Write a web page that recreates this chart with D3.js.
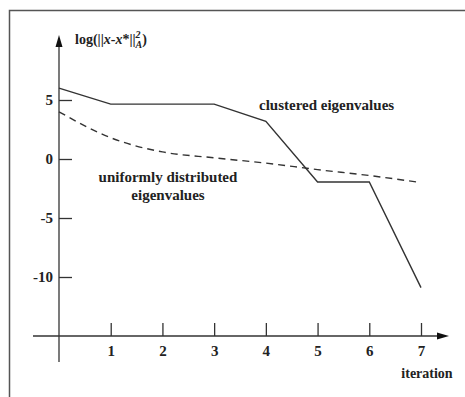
<!DOCTYPE html>
<html>
<head>
<meta charset="utf-8">
<script src="https://cdn.jsdelivr.net/npm/d3@7"></script>
<style>
  body { margin: 0; background: #fff; }
  text { font-family: "Liberation Serif", "Times New Roman", serif; fill: #222; }
</style>
</head>
<body>
<div id="chart"></div>
<script>
var svgWidth = 465;
var svgHeight = 397;

// data
var iterations = [0, 1, 2, 3, 4, 5, 6, 7];
var clustered = [6.0, 4.65, 4.65, 4.65, 3.2, -1.95, -1.95, -10.9];
var uniform = [4.0, 1.8, 0.6, 0.1, -0.35, -0.9, -1.4, -2.0];
var xTicks = [1, 2, 3, 4, 5, 6, 7];
var yTicks = [5, 0, -5, -10];

var svg = d3.select("#chart")
    .append("svg")
    .attr("width", svgWidth)
    .attr("height", svgHeight);

// frame (only left and top edges show in the picture)
svg.append("path")
    .attr("d", "M9.5,397V10.5H465")
    .attr("fill", "none")
    .attr("stroke", "#555")
    .attr("stroke-width", 1.5);

var xScale = d3.scaleLinear().domain([0, 7]).range([59, 421]);
var yScale = d3.scaleLinear().domain([-10, 5]).range([277, 100]);

var x0 = xScale(0);
var yAxisPos = 336;

// axis lines with arrowheads
svg.append("line")
    .attr("x1", x0).attr("x2", x0)
    .attr("y1", 44).attr("y2", 362)
    .attr("stroke", "#333").attr("stroke-width", 1.3);
svg.append("path")
    .attr("d", "M" + x0 + ",35L" + (x0 - 3.5) + ",47L" + (x0 + 3.5) + ",47Z")
    .attr("fill", "#111");

svg.append("line")
    .attr("x1", 33).attr("x2", 440)
    .attr("y1", yAxisPos).attr("y2", yAxisPos)
    .attr("stroke", "#333").attr("stroke-width", 1.3);
svg.append("path")
    .attr("d", "M449," + yAxisPos + "L437," + (yAxisPos - 3.5) + "L437," + (yAxisPos + 3.5) + "Z")
    .attr("fill", "#111");

// ticks pointing into the plot, plain hyphen for negatives
var fmt = function(d) { return String(d); };

var leftAxis = d3.axisLeft(yScale)
    .tickValues(yTicks)
    .tickSize(-13)
    .tickPadding(6)
    .tickFormat(fmt);

var bottomAxis = d3.axisBottom(xScale)
    .tickValues(xTicks)
    .tickSize(-13)
    .tickPadding(9)
    .tickFormat(fmt);

var gy = svg.append("g")
    .attr("transform", "translate(" + x0 + ",0)")
    .call(leftAxis);
var gx = svg.append("g")
    .attr("transform", "translate(0," + yAxisPos + ")")
    .call(bottomAxis);

[gx, gy].forEach(function(g) {
    g.select(".domain").remove();
    g.selectAll(".tick line").attr("stroke", "#333").attr("stroke-width", 1.3);
    g.selectAll(".tick text")
        .style("font-family", "'Liberation Serif', 'Times New Roman', serif")
        .style("font-size", "15px")
        .style("font-weight", "bold")
        .attr("fill", "#222");
});

// series
var line = d3.line()
    .x(function(d, i) { return xScale(iterations[i]); })
    .y(function(d) { return yScale(d); });

svg.append("path")
    .datum(clustered)
    .attr("d", line)
    .attr("fill", "none")
    .attr("stroke", "#333")
    .attr("stroke-width", 1.4);

svg.append("path")
    .datum(uniform)
    .attr("d", line.curve(d3.curveMonotoneX))
    .attr("fill", "none")
    .attr("stroke", "#333")
    .attr("stroke-width", 1.4)
    .attr("stroke-dasharray", "7,5");

// labels
svg.append("text")
    .attr("x", 259).attr("y", 110)
    .style("font-size", "15px").style("font-weight", "bold")
    .text("clustered eigenvalues");

svg.append("text")
    .attr("x", 168).attr("y", 182)
    .attr("text-anchor", "middle")
    .style("font-size", "15px").style("font-weight", "bold")
    .text("uniformly distributed");

svg.append("text")
    .attr("x", 168).attr("y", 200)
    .attr("text-anchor", "middle")
    .style("font-size", "15px").style("font-weight", "bold")
    .text("eigenvalues");

svg.append("text")
    .attr("x", 427).attr("y", 378)
    .attr("text-anchor", "middle")
    .style("font-size", "14px").style("font-weight", "bold")
    .text("iteration");

var ylab = svg.append("text")
    .attr("x", 75).attr("y", 44)
    .style("font-size", "14px").style("font-weight", "bold");
ylab.append("tspan").text("log(||");
ylab.append("tspan").style("font-style", "italic").text("x");
ylab.append("tspan").text("-");
ylab.append("tspan").style("font-style", "italic").text("x");
ylab.append("tspan").text("*||");
ylab.append("tspan").attr("dy", -6).style("font-size", "10px").style("font-style", "italic").text("2");
ylab.append("tspan").attr("dx", -5).attr("dy", 10).style("font-size", "10px").style("font-style", "italic").text("A");
ylab.append("tspan").attr("dy", -4).text(")");
</script>
</body>
</html>
